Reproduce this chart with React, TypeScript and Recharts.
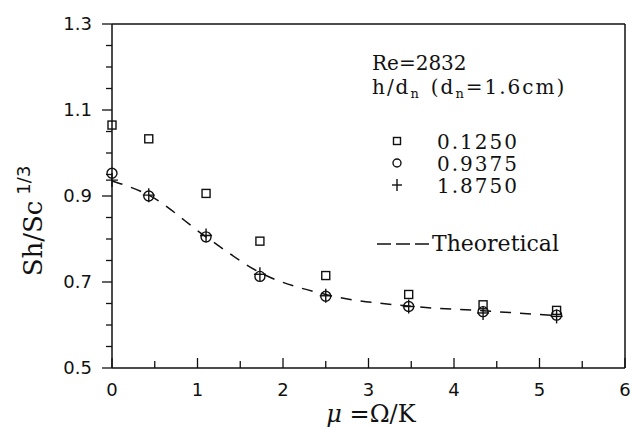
import React from 'react';
import { ComposedChart, Scatter, Line, XAxis, YAxis, ReferenceLine } from 'recharts';

// mu = Omega / K positions of the measurements
const muValues = [0, 0.43, 1.1, 1.73, 2.5, 3.47, 4.34, 5.2];
// Sh/Sc^(1/3) for each h/dn
const shSquare = [1.065, 1.033, 0.906, 0.795, 0.715, 0.671, 0.647, 0.634]; // 0.1250
const shCircle = [0.953, 0.9, 0.805, 0.713, 0.667, 0.643, 0.631, 0.623]; // 0.9375
const shPlus = [0.937, 0.902, 0.808, 0.718, 0.668, 0.643, 0.628, 0.62]; // 1.8750
// theoretical curve
const muTheory = [0, 0.43, 1.1, 1.73, 2.5, 3.47, 4.34, 5.2];
const shTheory = [0.935, 0.902, 0.805, 0.722, 0.671, 0.644, 0.633, 0.622];

const xTicks = [0, 0.5, 1, 1.5, 2, 2.5, 3, 3.5, 4, 4.5, 5, 5.5, 6];
const yTicks = [0.5, 0.55, 0.6, 0.65, 0.7, 0.75, 0.8, 0.85, 0.9, 0.95, 1.0, 1.05, 1.1, 1.15, 1.2, 1.25, 1.3];
const legendLabels = ['0.1250', '0.9375', '1.8750'];

const toPoints = (xs: number[], ys: number[]) => xs.map((mu, i) => ({ mu, sh: ys[i] }));
const squareData = toPoints(muValues, shSquare);
const circleData = toPoints(muValues, shCircle);
const plusData = toPoints(muValues, shPlus);
const theoryData = toPoints(muTheory, shTheory);

const INK = '#111';
const serif = '"DejaVu Serif", serif';
const sans = '"DejaVu Sans", sans-serif';

const SquareMark = ({ cx, cy, s = 4 }: any) => (
  <rect x={cx - s} y={cy - s} width={2 * s} height={2 * s} fill="none" stroke={INK} strokeWidth={1.4} />
);
const CircleMark = ({ cx, cy, s = 5 }: any) => <circle cx={cx} cy={cy} r={s} fill="none" stroke={INK} strokeWidth={1.4} />;
const PlusMark = ({ cx, cy, s = 6 }: any) => (
  <g stroke={INK} strokeWidth={1.4}>
    <line x1={cx - s} x2={cx + s} y1={cy} y2={cy} />
    <line x1={cx} x2={cx} y1={cy - s - 1} y2={cy + s + 1} />
  </g>
);

const isMajorY = (v: number) => {
  const k = (v - 0.5) / 0.2;
  return Math.abs(k - Math.round(k)) < 1e-6;
};

const YTick = ({ x, y, payload }: any) => {
  const v = payload.value;
  const major = isMajorY(v);
  return (
    <g>
      <line x1={x - (major ? 10 : 6)} x2={x} y1={y} y2={y} stroke={INK} strokeWidth={1.3} />
      {major && (
        <text x={x - 20} y={y} dy="0.36em" textAnchor="end" fontFamily={sans} fontSize={18} fill={INK}>
          {v.toFixed(1)}
        </text>
      )}
    </g>
  );
};

const XTick = ({ x, y, payload }: any) => {
  const v = payload.value;
  const major = Number.isInteger(v);
  return (
    <g>
      <line x1={x} x2={x} y1={y} y2={y - (major ? 10 : 7)} stroke={INK} strokeWidth={1.3} />
      {major && (
        <text x={x} y={y + 28} textAnchor="middle" fontFamily={sans} fontSize={18} fill={INK}>
          {v}
        </text>
      )}
    </g>
  );
};

const YLabel = () => (
  <text x={0} y={0} transform="translate(42,221) rotate(-90)" textAnchor="middle" fontFamily={serif} fontSize={26} fill={INK}>
    Sh/Sc
    <tspan dx={6} dy={-12} fontFamily={sans} fontSize={18}>
      1/3
    </tspan>
  </text>
);

const XLabel = () => (
  <text x={371} y={422} textAnchor="middle" fontFamily={serif} fontSize={24} fill={INK}>
    <tspan fontStyle="italic">μ</tspan> =Ω/K
  </text>
);

const LegendOverlay = () => (
  <svg width={633} height={427} style={{ position: 'absolute', left: 0, top: 0, pointerEvents: 'none' }}>
    <text x={372} y={70} fontFamily={serif} fontSize={20} fill={INK}>
      Re=2832
    </text>
    <text x={372} y={94} fontFamily={serif} fontSize={20} letterSpacing={2} fill={INK}>
      h/d<tspan fontSize={13} dy={4}>n</tspan>
      <tspan dx={10} dy={-4}>(d</tspan>
      <tspan fontSize={13} dy={4}>n</tspan>
      <tspan dy={-4}>=1.6cm)</tspan>
    </text>
    <SquareMark cx={397} cy={141} s={3.5} />
    <CircleMark cx={397} cy={163} s={4} />
    <PlusMark cx={397} cy={185} s={5} />
    {legendLabels.map((t, i) => (
      <text key={t} x={437} y={149 + i * 22} fontFamily={serif} fontSize={20} letterSpacing={2} fill={INK}>
        {t}
      </text>
    ))}
    <line x1={377} x2={430} y1={244} y2={244} stroke={INK} strokeWidth={1.5} strokeDasharray="14 5" />
    <text x={432} y={251} fontFamily={serif} fontSize={22} fill={INK}>
      Theoretical
    </text>
  </svg>
);

export default function App() {
  return (
    <div style={{ position: 'absolute', left: 0, top: 0, width: 633, height: 427, background: '#fff' }}>
      <ComposedChart width={633} height={427} margin={{ top: 24, right: 8, bottom: 0, left: 0 }}>
        <XAxis
          dataKey="mu"
          type="number"
          domain={[0, 6]}
          ticks={xTicks}
          interval={0}
          tickSize={0}
          tickMargin={0}
          height={59}
          stroke={INK}
          strokeWidth={1.5}
          tick={<XTick />}
          label={<XLabel />}
        />
        <YAxis
          type="number"
          domain={[0.5, 1.3]}
          ticks={yTicks}
          interval={0}
          tickSize={0}
          tickMargin={0}
          width={112}
          stroke={INK}
          strokeWidth={1.5}
          tick={<YTick />}
          label={<YLabel />}
          allowDataOverflow
        />
        <ReferenceLine y={1.3} stroke={INK} strokeWidth={1.5} />
        <ReferenceLine x={6} stroke={INK} strokeWidth={1.5} />
        <Line
          data={theoryData}
          dataKey="sh"
          type="monotone"
          stroke={INK}
          strokeWidth={1.5}
          strokeDasharray="11 9"
          dot={false}
          activeDot={false}
          isAnimationActive={false}
        />
        <Scatter data={squareData} dataKey="sh" shape={<SquareMark />} isAnimationActive={false} />
        <Scatter data={circleData} dataKey="sh" shape={<CircleMark />} isAnimationActive={false} />
        <Scatter data={plusData} dataKey="sh" shape={<PlusMark />} isAnimationActive={false} />
      </ComposedChart>
      <LegendOverlay />
    </div>
  );
}
